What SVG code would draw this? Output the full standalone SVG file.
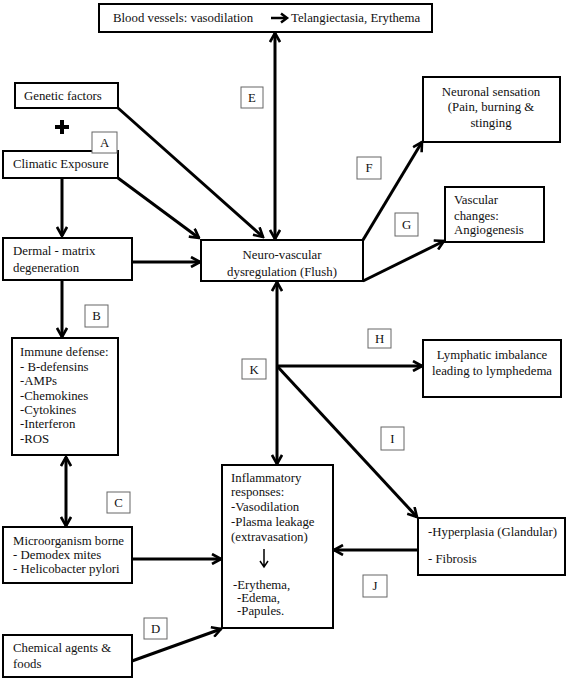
<svg xmlns="http://www.w3.org/2000/svg" width="570" height="681" viewBox="0 0 570 681">
<defs>
<style>
.box{fill:#fff;stroke:#000;stroke-width:2}
.lbl{fill:#fff;stroke:#666;stroke-width:1}
.t text{font-size:12.8px;fill:#111}
.c{text-anchor:middle}
.con{stroke:#000;stroke-width:3;fill:none}
</style>
<marker id="ah" viewBox="0 0 12 12" refX="10.5" refY="6" markerWidth="12" markerHeight="12" markerUnits="userSpaceOnUse" orient="auto-start-reverse">
<path d="M1.5,1 L10.5,6 L1.5,11" fill="none" stroke="#000" stroke-width="2.6" stroke-linejoin="miter"/>
</marker>
</defs>
<rect width="570" height="681" fill="#fff"/>

<g id="connectors">
<path class="con" d="M118,108 L263,237" marker-end="url(#ah)"/>
<path class="con" d="M118,178 L199,238" marker-end="url(#ah)"/>
<path class="con" d="M62,178 L62,236" marker-end="url(#ah)"/>
<path class="con" d="M132,262 L200,262" marker-end="url(#ah)"/>
<path class="con" d="M62,280 L62,337" marker-end="url(#ah)"/>
<path class="con" d="M66,457 L66,526" marker-start="url(#ah)" marker-end="url(#ah)"/>
<path class="con" d="M132,559 L221,559" marker-end="url(#ah)"/>
<path class="con" d="M132,661 L221,629" marker-end="url(#ah)"/>
<path class="con" d="M275,33 L275,239" marker-start="url(#ah)" marker-end="url(#ah)"/>
<path class="con" d="M363,240 L422,142" marker-end="url(#ah)"/>
<path class="con" d="M363,281 L444,241" marker-end="url(#ah)"/>
<path class="con" d="M277,282 L277,464" marker-start="url(#ah)" marker-end="url(#ah)"/>
<path class="con" d="M277,366 L422,366" marker-end="url(#ah)"/>
<path class="con" d="M277,366 L417,517" marker-end="url(#ah)"/>
<path class="con" d="M418,550 L334,550" marker-end="url(#ah)"/>
</g>

<g class="t" font-family="'Liberation Serif', 'Times New Roman', 'DejaVu Serif', serif">
<g id="blood-vessels">
<rect class="box" x="99" y="4" width="333" height="28"/>
<text x="113" y="22">Blood vessels: vasodilation</text>
<path d="M271,18 L285,18" stroke="#000" stroke-width="2.5" fill="none"/>
<path d="M281,13.5 L287,18 L281,22.5" stroke="#000" stroke-width="2.5" fill="none"/>
<text x="291" y="22">Telangiectasia, Erythema</text>
</g>

<g id="genetic">
<rect class="box" x="15" y="83" width="103" height="25"/>
<text x="24" y="100">Genetic factors</text>
</g>

<g id="plus">
<path d="M62,120 L62,134 M55,127 L69,127" stroke="#000" stroke-width="4" fill="none"/>
</g>

<g id="climatic">
<rect class="box" x="3" y="151" width="115" height="27"/>
<text x="13" y="168">Climatic Exposure</text>
</g>

<g id="dermal">
<rect class="box" x="3" y="238" width="129" height="42"/>
<text x="13" y="255">Dermal - matrix</text>
<text x="13" y="272">degeneration</text>
</g>

<g id="immune">
<rect class="box" x="12" y="338" width="106" height="117"/>
<text x="20" y="356">Immune defense:</text>
<text x="20" y="371">- B-defensins</text>
<text x="20" y="385">-AMPs</text>
<text x="20" y="400">-Chemokines</text>
<text x="20" y="414">-Cytokines</text>
<text x="20" y="428">-Interferon</text>
<text x="20" y="443">-ROS</text>
</g>

<g id="microorganism">
<rect class="box" x="3" y="527" width="129" height="56"/>
<text x="13" y="545">Microorganism borne</text>
<text x="13" y="559">- Demodex mites</text>
<text x="13" y="573">- Helicobacter pylori</text>
</g>

<g id="chemical">
<rect class="box" x="3" y="635" width="129" height="42"/>
<text x="13" y="652">Chemical agents &amp;</text>
<text x="13" y="668">foods</text>
</g>

<g id="neuro">
<rect class="box" x="201" y="240" width="162" height="41"/>
<text class="c" x="282" y="259">Neuro-vascular</text>
<text class="c" x="282" y="276">dysregulation (Flush)</text>
</g>

<g id="neuronal">
<rect class="box" x="423" y="77" width="137" height="65"/>
<text class="c" x="491" y="96">Neuronal sensation</text>
<text class="c" x="491" y="111">(Pain, burning &amp;</text>
<text class="c" x="491" y="127">stinging</text>
</g>

<g id="vascular">
<rect class="box" x="445" y="187" width="99" height="55"/>
<text x="454" y="204">Vascular</text>
<text x="454" y="220">changes:</text>
<text x="454" y="234">Angiogenesis</text>
</g>

<g id="lymphatic">
<rect class="box" x="423" y="340" width="138" height="57"/>
<text class="c" x="492" y="359">Lymphatic imbalance</text>
<text class="c" x="492" y="375">leading to lymphedema</text>
</g>

<g id="inflammatory">
<rect class="box" x="222" y="465" width="111" height="163"/>
<text x="231" y="482">Inflammatory</text>
<text x="231" y="496">responses:</text>
<text x="231" y="511">-Vasodilation</text>
<text x="231" y="526">-Plasma leakage</text>
<text x="231" y="541">(extravasation)</text>
<path d="M264,549 L264,566 M260,561 L264,567 L268,561" stroke="#000" stroke-width="1.5" fill="none"/>
<text x="233" y="589">-Erythema,</text>
<text x="237" y="602">-Edema,</text>
<text x="237" y="615">-Papules.</text>
</g>

<g id="hyperplasia">
<rect class="box" x="418" y="518" width="147" height="57"/>
<text x="428" y="536">-Hyperplasia (Glandular)</text>
<text x="428" y="563">- Fibrosis</text>
</g>

<g id="labels">
<rect class="lbl" x="92" y="132" width="25" height="21"/><text class="c" x="104.5" y="147">A</text>
<rect class="lbl" x="85" y="305" width="23" height="22"/><text class="c" x="96.5" y="320">B</text>
<rect class="lbl" x="107" y="492" width="23" height="21"/><text class="c" x="118.5" y="507">C</text>
<rect class="lbl" x="144" y="618" width="23" height="21"/><text class="c" x="155.5" y="633">D</text>
<rect class="lbl" x="241" y="87" width="22" height="21"/><text class="c" x="252" y="102">E</text>
<rect class="lbl" x="357" y="157" width="24" height="22"/><text class="c" x="369" y="172">F</text>
<rect class="lbl" x="395" y="213" width="23" height="23"/><text class="c" x="406.5" y="229">G</text>
<rect class="lbl" x="368" y="329" width="23" height="19"/><text class="c" x="379.5" y="343">H</text>
<rect class="lbl" x="381" y="427" width="23" height="23"/><text class="c" x="392.5" y="443">I</text>
<rect class="lbl" x="363" y="575" width="24" height="22"/><text class="c" x="375" y="590">J</text>
<rect class="lbl" x="242" y="359" width="24" height="20"/><text class="c" x="254" y="374">K</text>
</g>
</g>
</svg>
